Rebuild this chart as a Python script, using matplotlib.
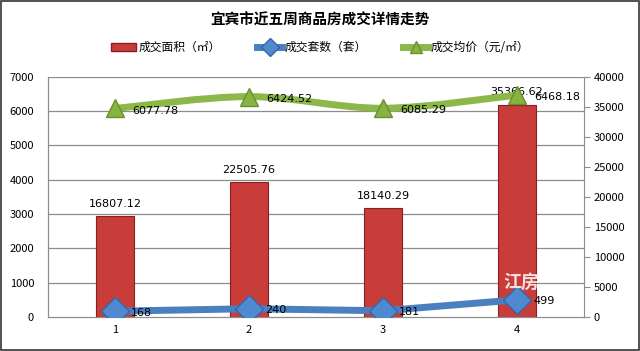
import matplotlib
matplotlib.use("Agg")
import matplotlib.pyplot as plt
from matplotlib.path import Path
from matplotlib.patches import PathPatch, Rectangle

plt.rcParams['font.family'] = ['Noto Sans CJK SC', 'DejaVu Sans']

weeks = ['1', '2', '3', '4']
area = [16807.12, 22505.76, 18140.29, 35366.62]
units = [168, 240, 181, 499]
price = [6077.78, 6424.52, 6085.29, 6468.18]

x = list(range(1, len(weeks) + 1))

fig = plt.figure(figsize=(6.4, 3.51), dpi=100)
ax = fig.add_axes([0.075, 0.097, 0.8375, 0.684])
ax2 = ax.twinx()

# 柱：成交面积，右轴
ax2.bar(x, area, width=0.28, color='#c83c3a', edgecolor='#8a1f1d', linewidth=0.8,
        zorder=2, label='成交面积（㎡）')
for xi, v in zip(x, area):
    ax2.text(xi, v + 1200, f'{v:.2f}', ha='center', va='bottom', fontsize=8,
             family='DejaVu Sans', zorder=6)

# 平滑曲线：成交均价，左轴
verts = [(x[0], price[0])]
codes = [Path.MOVETO]
pts = list(zip(x, price))
for i in range(len(pts) - 1):
    p0 = pts[i - 1] if i > 0 else pts[i]
    p1, p2 = pts[i], pts[i + 1]
    p3 = pts[i + 2] if i + 2 < len(pts) else pts[i + 1]
    c1 = (p1[0] + (p2[0] - p0[0]) / 6, p1[1] + (p2[1] - p0[1]) / 6)
    c2 = (p2[0] - (p3[0] - p1[0]) / 6, p2[1] - (p3[1] - p1[1]) / 6)
    verts += [c1, c2, p2]
    codes += [Path.CURVE4] * 3

ax.set_zorder(ax2.get_zorder() + 1)
ax.patch.set_visible(False)
ax.add_patch(PathPatch(Path(verts, codes), fill=False, edgecolor='#8cb84a',
                       linewidth=5, capstyle='round', zorder=4))
ax.plot(x, price, linestyle='none', marker='^', markersize=13, color='#86b43e',
        markeredgecolor='#6a9030', zorder=5)
for xi, v in zip(x, price):
    ax.text(xi + 0.13, v - 60, f'{v:.2f}', ha='left', va='center', fontsize=8,
            family='DejaVu Sans', zorder=6)

# 折线：成交套数，左轴
ax.plot(x, units, color='#4a7fc0', linewidth=5, marker='D', markersize=14,
        markerfacecolor='#4f8ad0', markeredgecolor='#3566a8', zorder=5)
for xi, v in zip(x, units):
    ax.text(xi + 0.12, v - 40, f'{v}', ha='left', va='center', fontsize=8,
            family='DejaVu Sans', zorder=6)

ax.text(4.03, 1000, '江房', color='white', fontsize=13, fontweight='bold',
        ha='center', va='center', alpha=0.85, zorder=7)

ax.set_xlim(0.5, 4.5)
ax.set_ylim(0, 7000)
ax.set_yticks(range(0, 7001, 1000))
ax2.set_ylim(0, 40000)
ax2.set_yticks(range(0, 40001, 5000))
ax.set_xticks(x)
ax.set_xticklabels(weeks)

for a in (ax, ax2):
    a.spines['top'].set_visible(False)
    a.spines['left'].set_color('#8c8c8c')
    a.spines['right'].set_color('#8c8c8c')
    a.spines['bottom'].set_color('#8c8c8c')
    a.tick_params(labelsize=8, colors='black')
ax.tick_params(axis='y', length=0, pad=10)
ax.tick_params(axis='x', length=0, pad=6)
ax2.tick_params(axis='y', length=4, direction='out', color='#8c8c8c', pad=3)
ax.spines['right'].set_visible(False)

# 网格线置于柱下
for yv in range(1000, 7001, 1000):
    ax2.axhline(yv * 40000 / 7000, color='#8c8c8c', linewidth=0.9, zorder=0)

fig.text(0.5, 0.945, '宜宾市近五周商品房成交详情走势', ha='center', va='center',
         fontsize=10.5, fontweight='bold')

handles = [Rectangle((0, 0), 1, 1, facecolor='#c83c3a', edgecolor='#8a1f1d'),
           plt.Line2D([], [], color='#4a7fc0', linewidth=5, marker='D',
                      markersize=9, markerfacecolor='#4f8ad0', markeredgecolor='#3566a8'),
           plt.Line2D([], [], color='#8cb84a', linewidth=5, marker='^',
                      markersize=8, markerfacecolor='#86b43e', markeredgecolor='#6a9030')]
fig.legend(handles, ['成交面积（㎡）', '成交套数（套）', '成交均价（元/㎡）'],
           loc='center', bbox_to_anchor=(0.5, 0.865), ncol=3, frameon=False,
           fontsize=8.5, handlelength=2.2, handletextpad=0.2, columnspacing=3)

fig.patches.append(Rectangle((0.002, 0.003), 0.996, 0.994, transform=fig.transFigure,
                             fill=False, edgecolor='#333333', linewidth=1.2))

fig.savefig('out.png', dpi=100)
